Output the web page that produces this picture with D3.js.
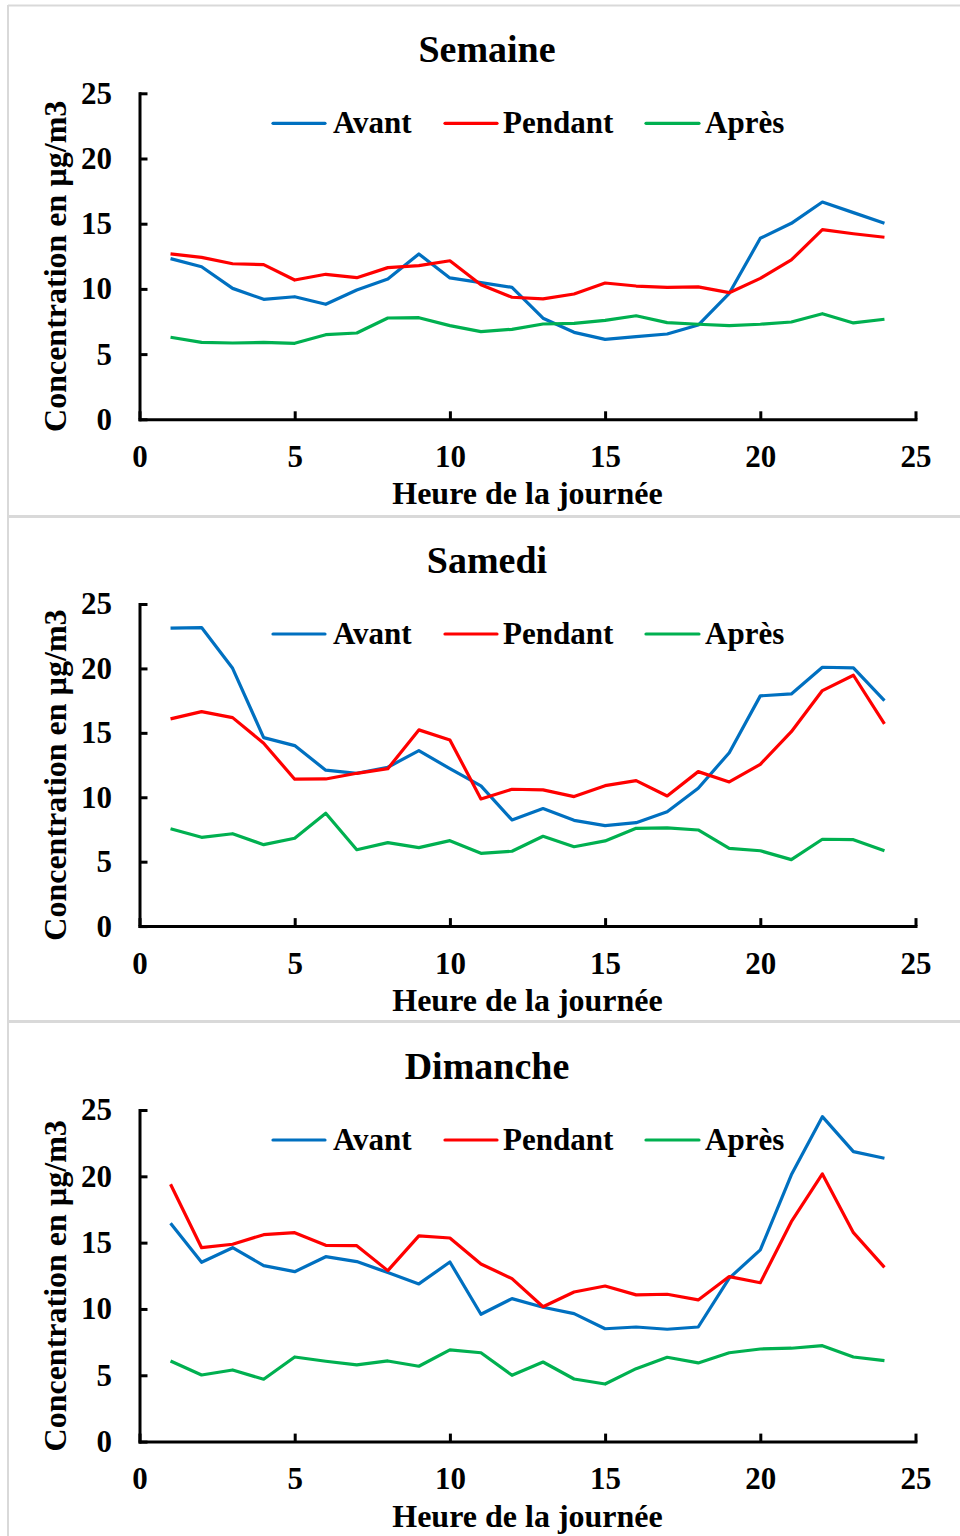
<!DOCTYPE html>
<html>
<head>
<meta charset="utf-8">
<script src="https://cdn.jsdelivr.net/npm/d3@7/dist/d3.min.js"></script>
<style>
  html, body { margin: 0; padding: 0; background: #fff; }
  svg { display: block; }
  text { font-family: "Liberation Serif", "Times New Roman", serif; font-weight: bold; fill: #000; }
</style>
</head>
<body>
<svg id="chart" width="960" height="1536"></svg>
<script>
// ---------- data ----------
const hours = [1,2,3,4,5,6,7,8,9,10,11,12,13,14,15,16,17,18,19,20,21,22,23,24];
const panelTitles = ["Semaine", "Samedi", "Dimanche"];
const seriesNames = ["Avant", "Pendant", "Après"];
const xTicks = [0, 5, 10, 15, 20, 25];
const yTicks = [0, 5, 10, 15, 20, 25];
const xLabel = "Heure de la journée";
const yLabel = "Concentration en µg/m3";

const semaineAvant   = [12.32,11.70,10.04,9.20,9.40,8.82,9.92,10.76,12.68,10.84,10.48,10.12,7.75,6.67,6.13,6.34,6.54,7.23,9.66,13.88,15.03,16.66,15.85,15.03];
const semainePendant = [12.68,12.42,11.93,11.86,10.68,11.12,10.86,11.63,11.78,12.16,10.32,9.36,9.23,9.61,10.45,10.22,10.12,10.15,9.71,10.81,12.22,14.54,14.23,13.96];
const semaineApres   = [6.29,5.90,5.85,5.90,5.83,6.49,6.62,7.77,7.79,7.18,6.72,6.90,7.31,7.36,7.59,7.94,7.41,7.29,7.18,7.29,7.46,8.10,7.39,7.67];

const samediAvant   = [23.12,23.17,20.01,14.63,14.01,12.10,11.86,12.33,13.62,12.22,10.88,8.24,9.12,8.21,7.80,8.03,8.88,10.70,13.46,17.87,18.02,20.09,20.04,17.50];
const samediPendant = [16.08,16.65,16.18,14.19,11.40,11.42,11.86,12.22,15.23,14.45,9.87,10.62,10.57,10.05,10.90,11.29,10.10,11.99,11.19,12.56,15.09,18.28,19.47,15.69];
const samediApres   = [7.56,6.89,7.17,6.32,6.82,8.76,5.93,6.48,6.09,6.63,5.65,5.81,6.97,6.16,6.61,7.59,7.62,7.46,6.04,5.85,5.16,6.74,6.71,5.85];

const dimancheAvant   = [16.46,13.52,14.62,13.27,12.81,13.94,13.57,12.74,11.89,13.54,9.60,10.78,10.13,9.65,8.51,8.64,8.47,8.64,12.32,14.45,20.11,24.50,21.86,21.36];
const dimanchePendant = [19.40,14.62,14.88,15.60,15.75,14.80,14.77,12.89,15.51,15.35,13.39,12.29,10.17,11.28,11.73,11.06,11.11,10.68,12.44,11.98,16.58,20.18,15.75,13.14];
const dimancheApres   = [6.08,5.02,5.40,4.70,6.38,6.06,5.78,6.08,5.68,6.91,6.70,5.00,6.00,4.72,4.34,5.50,6.36,5.93,6.70,6.98,7.04,7.23,6.38,6.10];

const panelSeries = [
  [semaineAvant, semainePendant, semaineApres],
  [samediAvant, samediPendant, samediApres],
  [dimancheAvant, dimanchePendant, dimancheApres]
];

// ---------- layout / style ----------
const colors = ["#0070C0", "#FF0000", "#00B050"];
const plotTop = [93.3, 604, 1110];
const plotBottom = [419.3, 926.1, 1441.6];
const xLeft = 139.5, xRight = 915.5;
const legendLayout = [ {x1: 273, x2: 325, tx: 333}, {x1: 445, x2: 497, tx: 503}, {x1: 646, x2: 699, tx: 705} ];

const svg = d3.select("#chart");

// frame (light grey panel borders)
const frame = svg.append("g").attr("stroke", "#d9d9d9").attr("fill", "none");
frame.append("line").attr("x1", 8).attr("x2", 960).attr("y1", 5.5).attr("y2", 5.5).attr("stroke-width", 2);
frame.append("line").attr("x1", 8).attr("x2", 8).attr("y1", 5).attr("y2", 1536).attr("stroke-width", 2);
frame.append("line").attr("x1", 8).attr("x2", 960).attr("y1", 516.5).attr("y2", 516.5).attr("stroke-width", 3);
frame.append("line").attr("x1", 8).attr("x2", 960).attr("y1", 1021.5).attr("y2", 1021.5).attr("stroke-width", 3);

const x = d3.scaleLinear().domain([0, 25]).range([xLeft, xRight]);

panelTitles.forEach((title, p) => {
  const y = d3.scaleLinear().domain([0, 25]).range([plotBottom[p], plotTop[p]]);
  const g = svg.append("g");

  // title
  g.append("text").attr("x", 487).attr("y", plotTop[p] - 31)
    .attr("text-anchor", "middle").style("font-size", "38px").text(title);

  // axes
  const yAxis = d3.axisLeft(y).tickValues(yTicks).tickSizeInner(-8).tickSizeOuter(0).tickPadding(27.5);
  const yg = g.append("g").attr("transform", `translate(${xLeft},0)`).call(yAxis);
  const xAxis = d3.axisBottom(x).tickValues(xTicks).tickSizeInner(-8).tickSizeOuter(0);
  const xg = g.append("g").attr("transform", `translate(0,${plotBottom[p]})`).call(xAxis);

  [yg, xg].forEach(ax => {
    ax.select(".domain").attr("stroke", "#000").attr("stroke-width", 3).attr("stroke-linecap", "square");
    ax.selectAll(".tick line").attr("stroke", "#000").attr("stroke-width", 3);
    ax.selectAll(".tick text").attr("fill", "#000")
      .style("font-family", '"Liberation Serif", "Times New Roman", serif')
      .style("font-weight", "bold").style("font-size", "31px");
  });
  yg.selectAll(".tick text").attr("dy", "0.32em");
  xg.selectAll(".tick text").attr("y", 47.7).attr("dy", 0);

  // axis titles
  g.append("text").attr("x", 527.5).attr("y", plotBottom[p] + 85)
    .attr("text-anchor", "middle").style("font-size", "32px").text(xLabel);
  const cy = (plotTop[p] + plotBottom[p]) / 2 + 10;
  g.append("text").attr("transform", `translate(66,${cy}) rotate(-90)`)
    .attr("text-anchor", "middle").style("font-size", "32px").text(yLabel);

  // lines
  const line = d3.line().x((d, i) => x(hours[i])).y(d => y(d));
  panelSeries[p].forEach((vals, s) => {
    g.append("path").datum(vals).attr("d", line)
      .attr("fill", "none").attr("stroke", colors[s]).attr("stroke-width", 3.2)
      .attr("stroke-linejoin", "round");
  });

  // legend
  const ly = plotTop[p] + 30;
  seriesNames.forEach((name, s) => {
    const L = legendLayout[s];
    g.append("line").attr("x1", L.x1).attr("x2", L.x2).attr("y1", ly).attr("y2", ly)
      .attr("stroke", colors[s]).attr("stroke-width", 3.2).attr("stroke-linecap", "round");
    g.append("text").attr("x", L.tx).attr("y", ly + 10).style("font-size", "31px").text(name);
  });
});
</script>
</body>
</html>
